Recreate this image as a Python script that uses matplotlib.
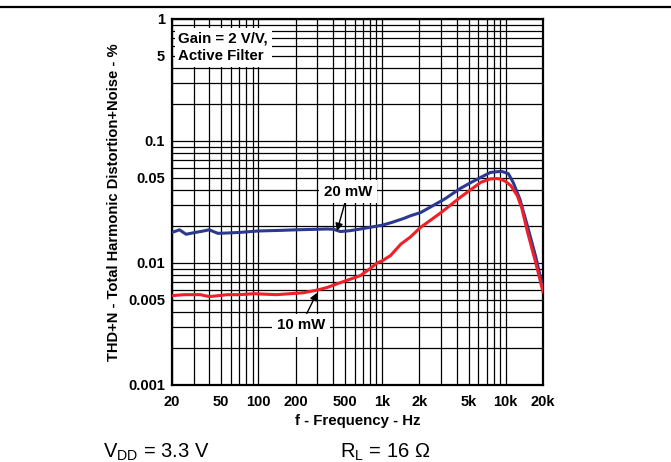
import matplotlib
matplotlib.use("Agg")
import matplotlib.pyplot as plt
from matplotlib.lines import Line2D
from matplotlib.ticker import LogLocator, NullFormatter

plt.rcParams['font.family'] = ['Liberation Sans', 'DejaVu Sans']
plt.rcParams['mathtext.fontset'] = 'custom'
plt.rcParams['mathtext.rm'] = 'Liberation Sans'

# Data
# ===========================
freq_20mw = [20, 23, 26, 30, 35, 40, 47, 55, 70, 100, 150, 200, 300, 360, 405,
             460, 550, 670, 800, 920, 1000, 1200, 1500, 1700, 2050, 2500, 3200,
             4300, 5300, 6300, 7500, 8500, 9300, 10500, 11500, 13000, 15000,
             17500, 20000]
thd_20mw = [0.0178, 0.0187, 0.0172, 0.0177, 0.0182, 0.0187, 0.0175, 0.0176,
            0.0178, 0.0183, 0.0185, 0.0187, 0.0189, 0.0190, 0.0189, 0.0181,
            0.0184, 0.0190, 0.0196, 0.0201, 0.0204, 0.0215, 0.0232, 0.0244,
            0.0259, 0.0290, 0.0334, 0.0409, 0.0460, 0.0504, 0.0552, 0.0560,
            0.0563, 0.0540, 0.0456, 0.0334, 0.0200, 0.0112, 0.0062]

freq_10mw = [20, 25, 34, 40, 56, 70, 92, 140, 230, 300, 360, 460, 560, 670,
             800, 910, 1000, 1170, 1420, 1690, 2050, 3000, 4300, 6300, 7500,
             8500, 9100, 10000, 11000, 12400, 13500, 15000, 17500, 20000]
thd_10mw = [0.0054, 0.0055, 0.0055, 0.0053, 0.0055, 0.0055, 0.0056, 0.0055,
            0.0057, 0.0060, 0.0063, 0.0069, 0.0074, 0.0079, 0.0090, 0.0100,
            0.0104, 0.0115, 0.0143, 0.0163, 0.0196, 0.0259, 0.0346, 0.0459,
            0.0489, 0.0492, 0.0486, 0.0465, 0.0430, 0.0356, 0.0280, 0.0179,
            0.0100, 0.0058]

x_ticks = [20, 50, 100, 200, 500, 1000, 2000, 5000, 10000, 20000]
x_labels = ['20', '50', '100', '200', '500', '1k', '2k', '5k', '10k', '20k']
y_ticks = [0.001, 0.005, 0.01, 0.05, 0.1, 0.5, 1]
y_labels = ['0.001', '0.005', '0.01', '0.05', '0.1', '5', '1']

# Figure
# ======
fig = plt.figure(figsize=(6.71, 4.62), dpi=100)
ax = fig.add_axes([0.2563, 0.1667, 0.5529, 0.7922])

ax.set_xscale('log')
ax.set_yscale('log')
ax.set_xlim(20, 20000)
ax.set_ylim(0.001, 1)

# grid on every 1-9 step of each decade
ax.xaxis.set_minor_locator(LogLocator(base=10, subs=range(1, 10), numticks=20))
ax.yaxis.set_minor_locator(LogLocator(base=10, subs=range(1, 10), numticks=20))
ax.xaxis.set_minor_formatter(NullFormatter())
ax.yaxis.set_minor_formatter(NullFormatter())
ax.grid(True, which='both', color='black', lw=0.9)
ax.set_axisbelow(True)

ax.set_xticks(x_ticks)
ax.set_xticklabels(x_labels)
ax.set_yticks(y_ticks)
ax.set_yticklabels(y_labels)
ax.tick_params(which='both', length=0)
ax.tick_params(axis='x', pad=7, labelsize=10.5)
ax.tick_params(axis='y', pad=5, labelsize=10.5)
for lab in ax.get_xticklabels() + ax.get_yticklabels():
    lab.set_fontweight('bold')

for sp in ax.spines.values():
    sp.set_linewidth(1.6)

ax.plot(freq_20mw, thd_20mw, color='#2b3990', lw=2.2, zorder=3)
ax.plot(freq_10mw, thd_10mw, color='#ee2028', lw=2.2, zorder=3)

ax.set_xlabel('f - Frequency - Hz', fontsize=10.8, fontweight='bold', labelpad=4)
ax.set_ylabel('THD+N - Total Harmonic Distortion+Noise - %', fontsize=10.6,
              fontweight='bold', labelpad=5)

ax.text(0.017, 0.965, 'Gain = 2 V/V,\nActive Filter', transform=ax.transAxes,
        ha='left', va='top', fontsize=10.8, fontweight='bold', linespacing=1.3,
        bbox=dict(boxstyle='square,pad=0.25', fc='white', ec='none'), zorder=4)

arrow = dict(arrowstyle='-|>', color='black', lw=1.0, mutation_scale=11,
             shrinkA=0, shrinkB=0)
ax.annotate('20 mW', xy=(432, 0.0183), xytext=(530, 0.0382), ha='center',
            va='center', fontsize=10.8, fontweight='bold', arrowprops=arrow,
            bbox=dict(boxstyle='square,pad=0.3', fc='white', ec='none'), zorder=4)
ax.annotate('10 mW', xy=(298, 0.0057), xytext=(221, 0.0031), ha='center',
            va='center', fontsize=10.8, fontweight='bold', arrowprops=arrow,
            bbox=dict(boxstyle='square,pad=0.3', fc='white', ec='none'), zorder=4)

# header rule and footnote conditions
fig.add_artist(Line2D([0, 1], [0.984, 0.984], color='black', lw=1.6))
fig.text(103 / 671, 1 - 458 / 462, r'V$_{\mathrm{DD}}$ = 3.3 V', fontsize=14.5,
         ha='left', va='baseline')
fig.text(340 / 671, 1 - 458 / 462, r'R$_{\mathrm{L}}$ = 16 $\Omega$',
         fontsize=14.5, ha='left', va='baseline')

fig.savefig('out.png', dpi=100)
